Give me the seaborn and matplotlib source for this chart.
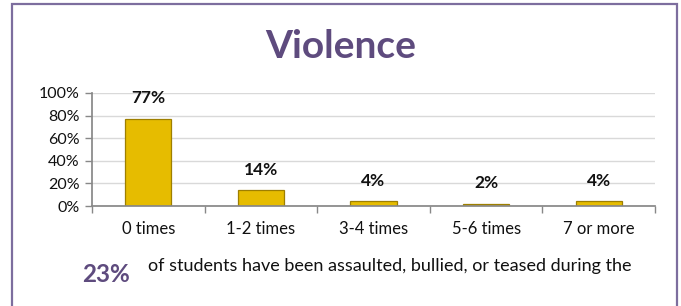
import matplotlib
matplotlib.use("Agg")
import matplotlib.pyplot as plt
import seaborn as sns
import pandas as pd
from matplotlib.patches import Rectangle
from matplotlib.ticker import FixedLocator

categories = ["0 times", "1-2 times", "3-4 times", "5-6 times", "7 or more"]
values = [77, 14, 4, 2, 4]
value_labels = ["77%", "14%", "4%", "2%", "4%"]
y_ticks = [0, 20, 40, 60, 80, 100]
y_tick_labels = ["0%", "20%", "40%", "60%", "80%", "100%"]
title = "Violence"
highlight = "23%"
note = "of students have been assaulted, bullied, or teased during the"

sns.set_theme(style="white")
plt.rcParams["font.family"] = ["Lato", "DejaVu Sans"]

df = pd.DataFrame({"cat": categories, "val": values})

fig = plt.figure(figsize=(6.81, 3.06), dpi=100)
fig.patch.set_facecolor("white")
ax = fig.add_axes([92/681, 1-206/306, (655-92)/681, (206-93)/306])

sns.barplot(data=df, x="cat", y="val", ax=ax, color="#E6BC00", width=0.41,
            edgecolor="#9E7F00", linewidth=0.9, saturation=1)

ax.set_ylim(0, 100)
ax.set_xlim(-0.5, 4.5)
ax.set_yticks(y_ticks)
ax.set_yticklabels(y_tick_labels, fontsize=11.5, color="#111111")
ax.yaxis.grid(True, color="#d9d9d9", linewidth=1)
ax.set_axisbelow(True)
ax.set_xlabel("")
ax.set_ylabel("")
ax.set_xticks(range(len(categories)))
ax.set_xticklabels(categories, fontsize=12, color="#111111")
ax.tick_params(axis="x", which="major", length=0, pad=11)
ax.xaxis.set_minor_locator(FixedLocator([i - 0.5 for i in range(len(categories) + 1)]))
ax.tick_params(axis="x", which="minor", bottom=True, length=5, color="#888888", width=1)
ax.tick_params(axis="y", left=True, length=5, color="#888888", width=1, pad=4)
for s in ["top", "right"]:
    ax.spines[s].set_visible(False)
ax.spines["left"].set_color("#888888")
ax.spines["bottom"].set_color("#888888")

for i, (v, lab) in enumerate(zip(values, value_labels)):
    ax.annotate(lab, (i, v), xytext=(0, 9), textcoords="offset points",
                ha="center", va="bottom", fontsize=12.5, fontweight="bold", color="#111111")

# border
fig.patches.append(Rectangle((12/681, -0.05), (677-12)/681, 1.05 - 4/306, transform=fig.transFigure,
                             fill=False, edgecolor="#7D6E9E", linewidth=1.6))

fig.text(341/681, 1-46/306, title, ha="center", va="center", fontsize=28,
         fontweight="bold", color="#5E4B7E")
fig.text(105.5/681, 1-274/306, highlight, ha="center", va="center", fontsize=17.5,
         fontweight="bold", color="#5E4B7E")
fig.text(148/681, 1-266/306, note, ha="left", va="center", fontsize=13, color="#111111")

fig.savefig("out.png", dpi=100)
